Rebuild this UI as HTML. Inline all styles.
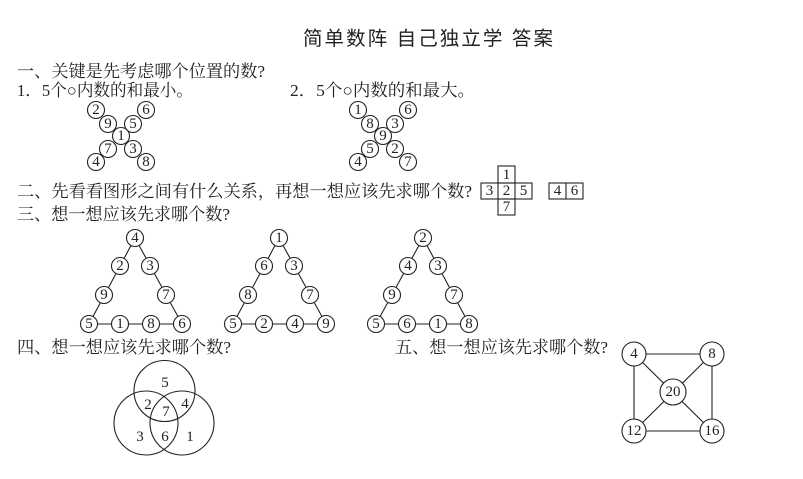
<!DOCTYPE html>
<html><head><meta charset="utf-8"><style>
html,body{margin:0;padding:0;background:#fff;}
svg{display:block}
.t{font-family:"Liberation Serif","Noto Serif CJK SC",serif;font-size:17px;fill:#222}
.n{font-family:"Liberation Serif",serif;font-size:15px;fill:#222;text-anchor:middle;dominant-baseline:central}
circle{fill:#fff;stroke:#222;stroke-width:1.1}
line,rect{stroke:#222;stroke-width:1.1;fill:none}
</style></head><body>
<svg width="803" height="479" viewBox="0 0 803 479" xmlns="http://www.w3.org/2000/svg">
<text x="303" y="45" style="font-family:'Liberation Sans','Noto Sans CJK SC',sans-serif;font-size:19.5px;fill:#222" textLength="250">简单数阵  自己独立学  答案</text>
<text class="t" x="17" y="77" textLength="248" lengthAdjust="spacingAndGlyphs">一、关键是先考虑哪个位置的数?</text>
<text class="t" x="17" y="96" textLength="176" lengthAdjust="spacingAndGlyphs">1．5个○内数的和最小。</text>
<text class="t" x="290" y="96" textLength="185" lengthAdjust="spacingAndGlyphs">2．5个○内数的和最大。</text>
<g>
<circle cx="96" cy="110" r="8.5"/><text class="n" x="96" y="110">2</text>
<circle cx="146" cy="110" r="8.5"/><text class="n" x="146" y="110">6</text>
<circle cx="108" cy="124" r="8.5"/><text class="n" x="108" y="124">9</text>
<circle cx="133" cy="124" r="8.5"/><text class="n" x="133" y="124">5</text>
<circle cx="121" cy="136" r="8.5"/><text class="n" x="121" y="136">1</text>
<circle cx="108" cy="149" r="8.5"/><text class="n" x="108" y="149">7</text>
<circle cx="133" cy="149" r="8.5"/><text class="n" x="133" y="149">3</text>
<circle cx="96" cy="162" r="8.5"/><text class="n" x="96" y="162">4</text>
<circle cx="146" cy="162" r="8.5"/><text class="n" x="146" y="162">8</text>
</g>
<g>
<circle cx="358" cy="110" r="8.5"/><text class="n" x="358" y="110">1</text>
<circle cx="408" cy="110" r="8.5"/><text class="n" x="408" y="110">6</text>
<circle cx="370" cy="124" r="8.5"/><text class="n" x="370" y="124">8</text>
<circle cx="395" cy="124" r="8.5"/><text class="n" x="395" y="124">3</text>
<circle cx="383" cy="136" r="8.5"/><text class="n" x="383" y="136">9</text>
<circle cx="370" cy="149" r="8.5"/><text class="n" x="370" y="149">5</text>
<circle cx="395" cy="149" r="8.5"/><text class="n" x="395" y="149">2</text>
<circle cx="358" cy="162" r="8.5"/><text class="n" x="358" y="162">4</text>
<circle cx="408" cy="162" r="8.5"/><text class="n" x="408" y="162">7</text>
</g>
<text class="t" x="17" y="197" textLength="455" lengthAdjust="spacingAndGlyphs">二、先看看图形之间有什么关系，再想一想应该先求哪个数?</text>
<rect x="498" y="166" width="17" height="17"/><rect x="481" y="183" width="51" height="16"/>
<line x1="498" y1="183" x2="498" y2="199"/><line x1="515" y1="183" x2="515" y2="199"/>
<rect x="498" y="199" width="17" height="16"/>
<text class="n" x="506.5" y="175">1</text><text class="n" x="489.5" y="191">3</text><text class="n" x="506.5" y="191">2</text><text class="n" x="523.5" y="191">5</text><text class="n" x="506.5" y="207">7</text>
<rect x="549" y="183" width="34" height="16"/><line x1="566" y1="183" x2="566" y2="199"/>
<text class="n" x="557.5" y="191">4</text><text class="n" x="574.5" y="191">6</text>
<text class="t" x="17" y="220" textLength="213" lengthAdjust="spacingAndGlyphs">三、想一想应该先求哪个数?</text>
<g>
<line x1="135" y1="238" x2="89" y2="324"/><line x1="135" y1="238" x2="182" y2="324"/><line x1="89" y1="324" x2="182" y2="324"/>
<circle cx="135" cy="238" r="8.5"/><text class="n" x="135" y="238">4</text>
<circle cx="120" cy="266" r="8.5"/><text class="n" x="120" y="266">2</text>
<circle cx="150" cy="266" r="8.5"/><text class="n" x="150" y="266">3</text>
<circle cx="104" cy="295" r="8.5"/><text class="n" x="104" y="295">9</text>
<circle cx="166" cy="295" r="8.5"/><text class="n" x="166" y="295">7</text>
<circle cx="89" cy="324" r="8.5"/><text class="n" x="89" y="324">5</text>
<circle cx="120" cy="324" r="8.5"/><text class="n" x="120" y="324">1</text>
<circle cx="151" cy="324" r="8.5"/><text class="n" x="151" y="324">8</text>
<circle cx="182" cy="324" r="8.5"/><text class="n" x="182" y="324">6</text>
</g>
<g>
<line x1="279" y1="238" x2="233" y2="324"/><line x1="279" y1="238" x2="326" y2="324"/><line x1="233" y1="324" x2="326" y2="324"/>
<circle cx="279" cy="238" r="8.5"/><text class="n" x="279" y="238">1</text>
<circle cx="264" cy="266" r="8.5"/><text class="n" x="264" y="266">6</text>
<circle cx="294" cy="266" r="8.5"/><text class="n" x="294" y="266">3</text>
<circle cx="248" cy="295" r="8.5"/><text class="n" x="248" y="295">8</text>
<circle cx="310" cy="295" r="8.5"/><text class="n" x="310" y="295">7</text>
<circle cx="233" cy="324" r="8.5"/><text class="n" x="233" y="324">5</text>
<circle cx="264" cy="324" r="8.5"/><text class="n" x="264" y="324">2</text>
<circle cx="295" cy="324" r="8.5"/><text class="n" x="295" y="324">4</text>
<circle cx="326" cy="324" r="8.5"/><text class="n" x="326" y="324">9</text>
</g>
<g>
<line x1="423" y1="238" x2="376" y2="324"/><line x1="423" y1="238" x2="469" y2="324"/><line x1="376" y1="324" x2="469" y2="324"/>
<circle cx="423" cy="238" r="8.5"/><text class="n" x="423" y="238">2</text>
<circle cx="408" cy="266" r="8.5"/><text class="n" x="408" y="266">4</text>
<circle cx="438" cy="266" r="8.5"/><text class="n" x="438" y="266">3</text>
<circle cx="392" cy="295" r="8.5"/><text class="n" x="392" y="295">9</text>
<circle cx="454" cy="295" r="8.5"/><text class="n" x="454" y="295">7</text>
<circle cx="376" cy="324" r="8.5"/><text class="n" x="376" y="324">5</text>
<circle cx="407" cy="324" r="8.5"/><text class="n" x="407" y="324">6</text>
<circle cx="438" cy="324" r="8.5"/><text class="n" x="438" y="324">1</text>
<circle cx="469" cy="324" r="8.5"/><text class="n" x="469" y="324">8</text>
</g>
<text class="t" x="17" y="353" textLength="214" lengthAdjust="spacingAndGlyphs">四、想一想应该先求哪个数?</text>
<text class="t" x="395" y="353" textLength="213" lengthAdjust="spacingAndGlyphs">五、想一想应该先求哪个数?</text>
<circle cx="164.5" cy="391" r="30.5" style="fill:none"/>
<circle cx="146" cy="423" r="32" style="fill:none"/>
<circle cx="182" cy="423" r="32" style="fill:none"/>
<text class="n" x="165" y="383">5</text><text class="n" x="148" y="405">2</text><text class="n" x="166" y="412">7</text><text class="n" x="185" y="404">4</text>
<text class="n" x="140" y="437">3</text><text class="n" x="165" y="437">6</text><text class="n" x="190" y="437">1</text>
<line x1="634" y1="354" x2="712" y2="354"/><line x1="634" y1="431" x2="712" y2="431"/>
<line x1="634" y1="354" x2="634" y2="431"/><line x1="712" y1="354" x2="712" y2="431"/>
<line x1="634" y1="354" x2="712" y2="431"/><line x1="712" y1="354" x2="634" y2="431"/>
<circle cx="634" cy="354" r="12"/><text class="n" x="634" y="354">4</text>
<circle cx="712" cy="354" r="12"/><text class="n" x="712" y="354">8</text>
<circle cx="673" cy="392" r="13"/><text class="n" x="673" y="392">20</text>
<circle cx="634" cy="431" r="12"/><text class="n" x="634" y="431">12</text>
<circle cx="712" cy="431" r="12"/><text class="n" x="712" y="431">16</text>
</svg>
</body></html>
